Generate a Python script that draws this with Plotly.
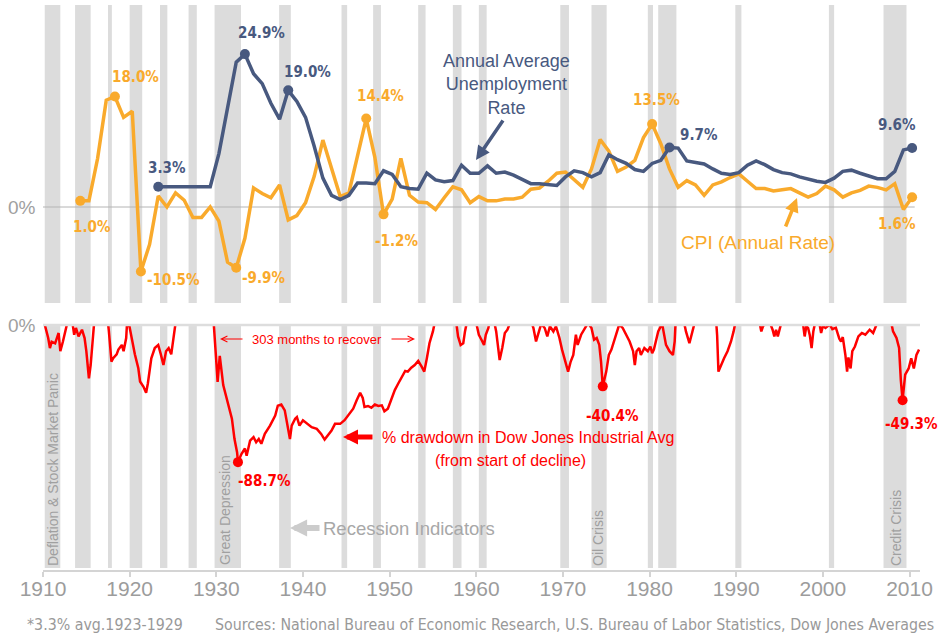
import plotly.graph_objects as go

# ---------------- data ----------------
cpi_years = list(range(1914, 2011))
cpi_rate = [1.0, 1.0, 7.9, 17.4, 18.0, 14.6, 15.6, -10.5, -6.1, 1.8,
            0.0, 2.3, 1.1, -1.7, -1.7, 0.0, -2.3, -9.0, -9.9, -5.1,
            3.1, 2.2, 1.5, 3.6, -2.1, -1.4, 0.7, 5.0, 10.9, 6.1,
            1.7, 2.3, 8.3, 14.4, 8.1, -1.2, 1.3, 7.9, 1.9, 0.8,
            0.7, -0.4, 1.5, 3.3, 2.8, 0.7, 1.7, 1.0, 1.0, 1.3,
            1.3, 1.6, 2.9, 3.1, 4.2, 5.5, 5.7, 4.4, 3.2, 6.2,
            11.0, 9.1, 5.8, 6.5, 7.6, 11.3, 13.5, 10.3, 6.2, 3.2,
            4.3, 3.6, 1.9, 3.6, 4.1, 4.8, 5.4, 4.2, 3.0, 3.0,
            2.6, 2.8, 3.0, 2.3, 1.6, 2.2, 3.4, 2.8, 1.6, 2.3,
            2.7, 3.4, 3.2, 2.8, 3.8, -0.4, 1.6]

unemp_years = list(range(1923, 2011))
unemp_rate = [3.3, 3.3, 3.3, 3.3, 3.3, 3.3, 3.3,
              8.7, 15.9, 23.6, 24.9, 21.7, 20.1, 16.9, 14.3, 19.0, 17.2,
              14.6, 9.9, 4.7, 1.9, 1.2, 1.9, 3.9, 3.9, 3.8, 5.9,
              5.3, 3.3, 3.0, 2.9, 5.5, 4.4, 4.1, 4.3, 6.8, 5.5,
              5.5, 6.7, 5.5, 5.7, 5.2, 4.5, 3.8, 3.8, 3.6, 3.5,
              4.9, 5.9, 5.6, 4.9, 5.6, 8.5, 7.7, 7.1, 6.1, 5.8,
              7.1, 7.6, 9.7, 9.6, 7.5, 7.2, 7.0, 6.2, 5.5, 5.3,
              5.6, 6.8, 7.5, 6.9, 6.1, 5.6, 5.4, 4.9, 4.5, 4.2,
              4.0, 4.7, 5.8, 6.0, 5.5, 5.1, 4.6, 4.6, 5.8, 9.3, 9.6]

dow_time = [1910.0, 1910.2, 1910.6, 1910.8, 1911.0, 1911.4, 1911.8, 1912.0, 1912.3, 1912.7, 1912.8,
            1913.4, 1913.6, 1913.8, 1914.1, 1914.5, 1914.8, 1915.0, 1915.3, 1915.5, 1915.7, 1915.9,
            1917.5, 1917.6, 1917.9, 1918.1, 1918.5, 1918.7, 1919.1, 1919.3, 1919.6, 1919.7,
            1919.9, 1920.2, 1920.6, 1921.0, 1921.2, 1921.6, 1921.9, 1922.1, 1922.5, 1922.9, 1923.3,
            1923.6, 1923.9, 1924.2, 1924.5, 1924.8, 1925.0, 1925.3,
            1929.7, 1929.85, 1930.0, 1930.15, 1930.4, 1930.8, 1931.2, 1931.5, 1931.8, 1932.1, 1932.4, 1932.5,
            1932.9, 1933.3, 1933.5, 1933.9, 1934.3, 1934.6, 1934.9, 1935.2, 1935.6, 1936.2, 1936.8,
            1937.1, 1937.5, 1937.9, 1938.3, 1938.5, 1938.7, 1939.1, 1939.3, 1939.6, 1940.0, 1940.5,
            1941.0, 1941.6, 1942.1, 1942.5, 1942.9, 1943.3, 1943.7, 1944.3, 1944.8, 1945.4, 1945.8,
            1946.2, 1946.6, 1946.9, 1947.1, 1947.5, 1947.9, 1948.3, 1948.7, 1949.1, 1949.4, 1949.8,
            1950.2, 1950.6, 1951.0, 1951.4, 1951.8, 1952.1, 1952.5, 1952.9, 1953.3, 1953.7, 1954.0,
            1954.3, 1954.6, 1955.0, 1955.2,
            1957.7, 1957.9, 1958.2, 1958.5, 1958.7, 1958.9,
            1960.0, 1960.3, 1960.6, 1960.9, 1961.1, 1961.4, 1961.5,
            1962.1, 1962.3, 1962.5, 1962.7, 1963.0, 1963.3, 1963.6, 1963.9,
            1966.4, 1966.6, 1966.9, 1967.2, 1967.5, 1967.9, 1968.2, 1968.5, 1968.9, 1969.2, 1969.6,
            1969.9, 1970.2, 1970.6, 1970.9, 1971.2, 1971.5, 1971.7, 1972.1, 1972.5, 1972.9, 1973.3,
            1973.6, 1973.9, 1974.2, 1974.4, 1974.6, 1975.0, 1975.3, 1975.6, 1975.9, 1976.2, 1976.5,
            1976.9, 1977.3, 1977.7, 1978.1, 1978.3, 1978.5, 1978.8, 1979.0, 1979.4, 1979.8, 1980.1,
            1980.3, 1980.5, 1981.0, 1981.4, 1981.5, 1981.9, 1982.3, 1982.7, 1982.9, 1983.0,
            1984.0, 1984.2, 1984.6, 1984.9, 1985.2,
            1987.7, 1987.8, 1987.95, 1988.3, 1988.6, 1989.0, 1989.4, 1989.7, 1989.9,
            1992.7, 1992.9, 1993.1, 1993.4, 1993.9, 1994.2, 1994.4, 1994.6, 1994.8, 1995.2,
            1997.7, 1997.9, 1998.1, 1998.3, 1998.5, 1998.7, 1998.9, 1999.1,
            1999.6, 1999.8, 2000.0, 2000.3, 2000.8, 2001.1, 2001.5, 2001.9, 2002.1, 2002.3, 2002.6,
            2002.8, 2002.95, 2003.2, 2003.4, 2003.7, 2004.1, 2004.5, 2004.9, 2005.4, 2005.8, 2006.2, 2006.4,
            2007.9, 2008.1, 2008.5, 2008.8, 2008.9, 2009.0, 2009.2, 2009.4, 2009.5, 2009.9, 2010.2,
            2010.5, 2010.8, 2011.1]
dow_drawdown = [0, -1, -9.6, -16, -12, -13, -6.4, -18, -11.8, -1.3, 0,
                0, -7.5, -3.2, -8.5, -4.3, -9.6, -18, -35.3, -26.8, -14, 0,
                0, -5, -24.6, -22.5, -20, -17, -14, -18, -9.6, 0,
                0, -9.6, -20, -28.9, -37.3, -40.7, -44.5, -38.6, -22.5, -16, -14,
                -20, -26.8, -18, -16, -20, -11.8, 0,
                0, -10, -24.6, -37.5, -21, -39.6, -48, -53.5, -61, -74, -82.5, -88.7,
                -83.5, -80, -84.6, -75, -72.8, -76, -74, -77, -70.7, -65.4, -59,
                -52.7, -52, -55.7, -67.5, -74, -65.4, -61, -60, -65.4, -62, -64.3,
                -66.4, -67.5, -70.7, -74.3, -71.8, -68.6, -64.3, -64.3, -62, -58, -54.6,
                -49.3, -44.5, -47.8, -53.5, -52.9, -54, -52, -52.9, -52.5, -56.3, -54.6,
                -48.2, -42.8, -38.6, -34.3, -30.6, -31, -28.5, -26.8, -24.2, -27.9, -31,
                -22.5, -12.9, -5.4, 0,
                0, -8.6, -14, -12.9, -5.4, 0,
                0, -7.5, -10.7, -14, -7.5, -3.2, 0,
                0, -5.4, -14, -23.6, -16, -6.4, -4.3, 0,
                0, -3.2, -11.8, -5.4, -0.5, -3.2, -8.6, -2.1, -5.4, -2.1, -9.6,
                -17, -22.5, -31, -24.6, -20.4, -7.5, -14, -7.5, -3.2, 0, -3.2,
                -10.7, -9.6, -14, -24.6, -40.4, -31, -20.4, -17, -11.8, -6.4, -1,
                -3.2, -7.5, -11.8, -18, -26.8, -18, -16, -20.4, -16, -18, -15,
                -19.3, -17, -5.4, -1, -2, -14, -18, -20.4, -11.8, 0,
                0, -5.4, -12.9, -6.4, 0,
                0, -8, -31, -25.7, -22.5, -18, -11.8, -5.4, 0,
                0, -5.4, -2, 0, 0, -4.3, -8.6, -4.3, -8.6, 0,
                0, -8.6, -2, -3.2, -8, -16, -5.4, 0,
                0, -6.4, -2, -3.2, -1, -4, -3, -10, -11.8, -9, -20.4,
                -31, -22, -29, -18, -15, -8.6, -6.4, -7.5, -4.3, -6.4, -1, 0,
                0, -5.4, -9.6, -16, -26.8, -36.4, -49.3, -39.6, -33, -29, -22.5,
                -29, -20.4, -17]

recession_start = [1910.2, 1913.7, 1917.5, 1920.0, 1923.5, 1926.8, 1929.8, 1937.25, 1944.45,
                   1948.1, 1953.3, 1957.3, 1960.3, 1969.7, 1973.3, 1979.8, 1981.0, 1989.9,
                   2000.7, 2007.0]
recession_end = [1912.0, 1915.5, 1917.95, 1921.45, 1924.35, 1927.75, 1932.85, 1938.6, 1945.1,
                 1949.0, 1954.15, 1958.3, 1961.2, 1970.7, 1975.05, 1980.4, 1983.1, 1990.6,
                 2001.3, 2009.65]

tick_years = [1910, 1920, 1930, 1940, 1950, 1960, 1970, 1980, 1990, 2000, 2010]
tick_labels = [str(y) for y in tick_years]

unemp_labels = [1923, 1933, 1938, 1982, 2010]
cpi_labels = [1914, 1918, 1921, 1932, 1947, 1949, 1980, 2010]
dow_labels = [1932.5, 1974.6, 2009.2]

# ---------------- styling / geometry ----------------
BLUE = "#48597f"
ORANGE = "#f9aa2c"
RED = "#ff0000"
GRAY_BAR = "#dcdcdc"
NARROW = "DejaVu Sans Condensed, Liberation Sans Narrow, sans-serif"
SANS = "Liberation Sans, Arial, sans-serif"
OFF = 0.3  # annual points plotted a little after the start of the year

L, R, T, B = 43, 20, 5, 65
W, H = 940, 635
PW, PH = W - L - R, H - T - B


def px(xp):
    return (xp - L) / PW


def py(yp):
    return (H - B - yp) / PH


fig = go.Figure()

# recession shading
for s, e in zip(recession_start, recession_end):
    fig.add_shape(type="rect", xref="x", yref="y domain", x0=s, x1=e, y0=0, y1=1,
                  fillcolor=GRAY_BAR, line_width=0, layer="below")
    fig.add_shape(type="rect", xref="x", yref="y2 domain", x0=s, x1=e, y0=0.008, y1=1,
                  fillcolor=GRAY_BAR, line_width=0, layer="below")

# zero lines
fig.add_shape(type="line", xref="x", yref="y", x0=1910, x1=2010.6, y0=0, y1=0,
              line=dict(color="#b4b4b4", width=1), layer="below")
fig.add_shape(type="line", xref="paper", yref="y2 domain", x0=0, x1=1, y0=1, y1=1,
              line=dict(color="#dddddd", width=2.5), layer="above")

# top panel lines
cx = [y + OFF for y in cpi_years]
ux = [y + OFF for y in unemp_years]
fig.add_trace(go.Scatter(x=cx, y=cpi_rate, mode="lines", line=dict(color=ORANGE, width=3.5),
                         xaxis="x", yaxis="y", hoverinfo="skip", showlegend=False))
fig.add_trace(go.Scatter(x=ux, y=unemp_rate, mode="lines", line=dict(color=BLUE, width=3.5),
                         xaxis="x", yaxis="y", hoverinfo="skip", showlegend=False))

cpi_pts = [cpi_rate[cpi_years.index(y)] for y in cpi_labels]
un_pts = [unemp_rate[unemp_years.index(y)] for y in unemp_labels]
fig.add_trace(go.Scatter(x=[y + OFF for y in cpi_labels], y=cpi_pts, mode="markers",
                         marker=dict(color=ORANGE, size=10), xaxis="x", yaxis="y",
                         hoverinfo="skip", showlegend=False))
fig.add_trace(go.Scatter(x=[y + OFF for y in unemp_labels], y=un_pts, mode="markers",
                         marker=dict(color=BLUE, size=10), xaxis="x", yaxis="y",
                         hoverinfo="skip", showlegend=False))

# bottom panel
fig.add_trace(go.Scatter(x=dow_time, y=dow_drawdown, mode="lines", line=dict(color=RED, width=2.5),
                         xaxis="x", yaxis="y2", hoverinfo="skip", showlegend=False))
dow_pts = [dow_drawdown[dow_time.index(t)] for t in dow_labels]
fig.add_trace(go.Scatter(x=dow_labels, y=dow_pts, mode="markers", marker=dict(color=RED, size=10),
                         xaxis="x", yaxis="y2", hoverinfo="skip", showlegend=False))

ann = []


def val_label(x, y, text, color, dx, dy, yref="y"):
    ann.append(dict(x=x, y=y, xref="x", yref=yref, text=text, showarrow=False,
                    xshift=dx, yshift=dy, xanchor="center", yanchor="middle",
                    font=dict(family=NARROW, size=15, color=color, weight="bold")))


un_off = {1923: (9, 19), 1933: (17, 21), 1938: (19, 18), 1982: (30, 12), 2010: (-15, 23)}
for y, v in zip(unemp_labels, un_pts):
    val_label(y + OFF, v, f"{v:.1f}%", BLUE, *un_off[y])
cpi_off = {1914: (12, -26), 1918: (21, 19), 1921: (33, -9), 1932: (28, -10),
           1947: (14, 23), 1949: (13, -27), 1980: (4, 24), 2010: (-15, -27)}
for y, v in zip(cpi_labels, cpi_pts):
    val_label(y + OFF, v, f"{v:.1f}%", ORANGE, *cpi_off[y])
dow_off = {1932.5: (27, -19), 1974.6: (10, -30), 2009.2: (9, -24)}
for t, v in zip(dow_labels, dow_pts):
    val_label(t, v, f"{v:.1f}%", RED, *dow_off[t], yref="y2")


def text_px(xp, yp, text, size, color, family=SANS, angle=0, xanchor="center"):
    ann.append(dict(x=px(xp), y=py(yp), xref="paper", yref="paper", text=text,
                    showarrow=False, xanchor=xanchor, yanchor="middle", textangle=angle,
                    font=dict(family=family, size=size, color=color)))


def arrow_px(x0, y0, x1, y1, color, width, head, size):
    ann.append(dict(x=px(x1), y=py(y1), xref="paper", yref="paper",
                    ax=x0 - x1, ay=y0 - y1, axref="pixel", ayref="pixel", text="",
                    showarrow=True, arrowcolor=color, arrowwidth=width,
                    arrowhead=head, arrowsize=size, standoff=0, startstandoff=0))


# axis zero labels
text_px(22, 207, "0%", 19, "#a0a0a0")
text_px(22, 325, "0%", 19, "#a0a0a0")

# series captions
text_px(507, 84, "Annual Average<br>Unemployment<br>Rate", 18, BLUE)
arrow_px(504, 119, 476, 160, BLUE, 3.5, 2, 0.8)
text_px(758, 242, "CPI (Annual Rate)", 19, ORANGE)
arrow_px(785, 228, 797, 198, ORANGE, 3.5, 2, 0.8)

text_px(317, 339, "303 months to recover", 13, RED)
arrow_px(244, 339, 220, 339, RED, 1, 5, 1.2)
arrow_px(390, 339, 415, 339, RED, 1, 5, 1.2)

text_px(528, 438, "% drawdown in Dow Jones Industrial Avg", 16, RED)
text_px(510, 460, "(from start of decline)", 16, RED)
arrow_px(374, 437, 343, 437, RED, 5, 2, 0.6)

text_px(409, 528, "Recession Indicators", 18.5, "#a8a8a8")
arrow_px(321, 528, 290, 528, "#cccccc", 6, 2, 0.57)

# vertical event labels
text_px(53, 470, "Deflation &amp; Stock Market Panic", 14, "#a0a0a0", angle=-90)
text_px(225, 510, "Great Depression", 14, "#a0a0a0", angle=-90)
text_px(598, 538, "Oil Crisis", 14, "#a0a0a0", angle=-90)
text_px(896, 528, "Credit Crisis", 14, "#a0a0a0", angle=-90)

# footnotes
FOOT = "DejaVu Sans Condensed, Liberation Sans Narrow, sans-serif"
text_px(25, 624, "*3.3% avg.1923-1929", 15.8, "#999999", family=FOOT, xanchor="left")
text_px(213, 624, "Sources: National Bureau of Economic Research, U.S. Bureau of Labor Statistics, Dow Jones Averages",
        15.8, "#999999", family=FOOT, xanchor="left")

fig.update_layout(
    width=W, height=H, margin=dict(l=L, r=R, t=T, b=B),
    paper_bgcolor="white", plot_bgcolor="white",
    annotations=ann,
    xaxis=dict(domain=[0, 1], range=[1910, 1910 + PW / 8.665], anchor="y2",
               tickvals=tick_years, ticktext=tick_labels, showgrid=False, zeroline=False,
               showline=True, linecolor="#d4d4d4", linewidth=1.5, ticks="outside",
               ticklen=5, tickcolor="#d4d4d4", tickwidth=1.5, ticklabelstandoff=-6,
               tickfont=dict(family=SANS, size=21, color="#9c9c9c")),
    yaxis=dict(domain=[(H - B - 303) / PH, 1], range=[-(303 - 207) / 6.14, (207 - T) / 6.14],
               visible=False, anchor="x"),
    yaxis2=dict(domain=[0, (H - B - 325) / PH], range=[-(H - B - 325) / 1.556, -1.3],
                visible=False, anchor="x"),
)

fig.write_html("out.html", config={"displayModeBar": False},
               post_script="document.body.style.margin='0px';")
